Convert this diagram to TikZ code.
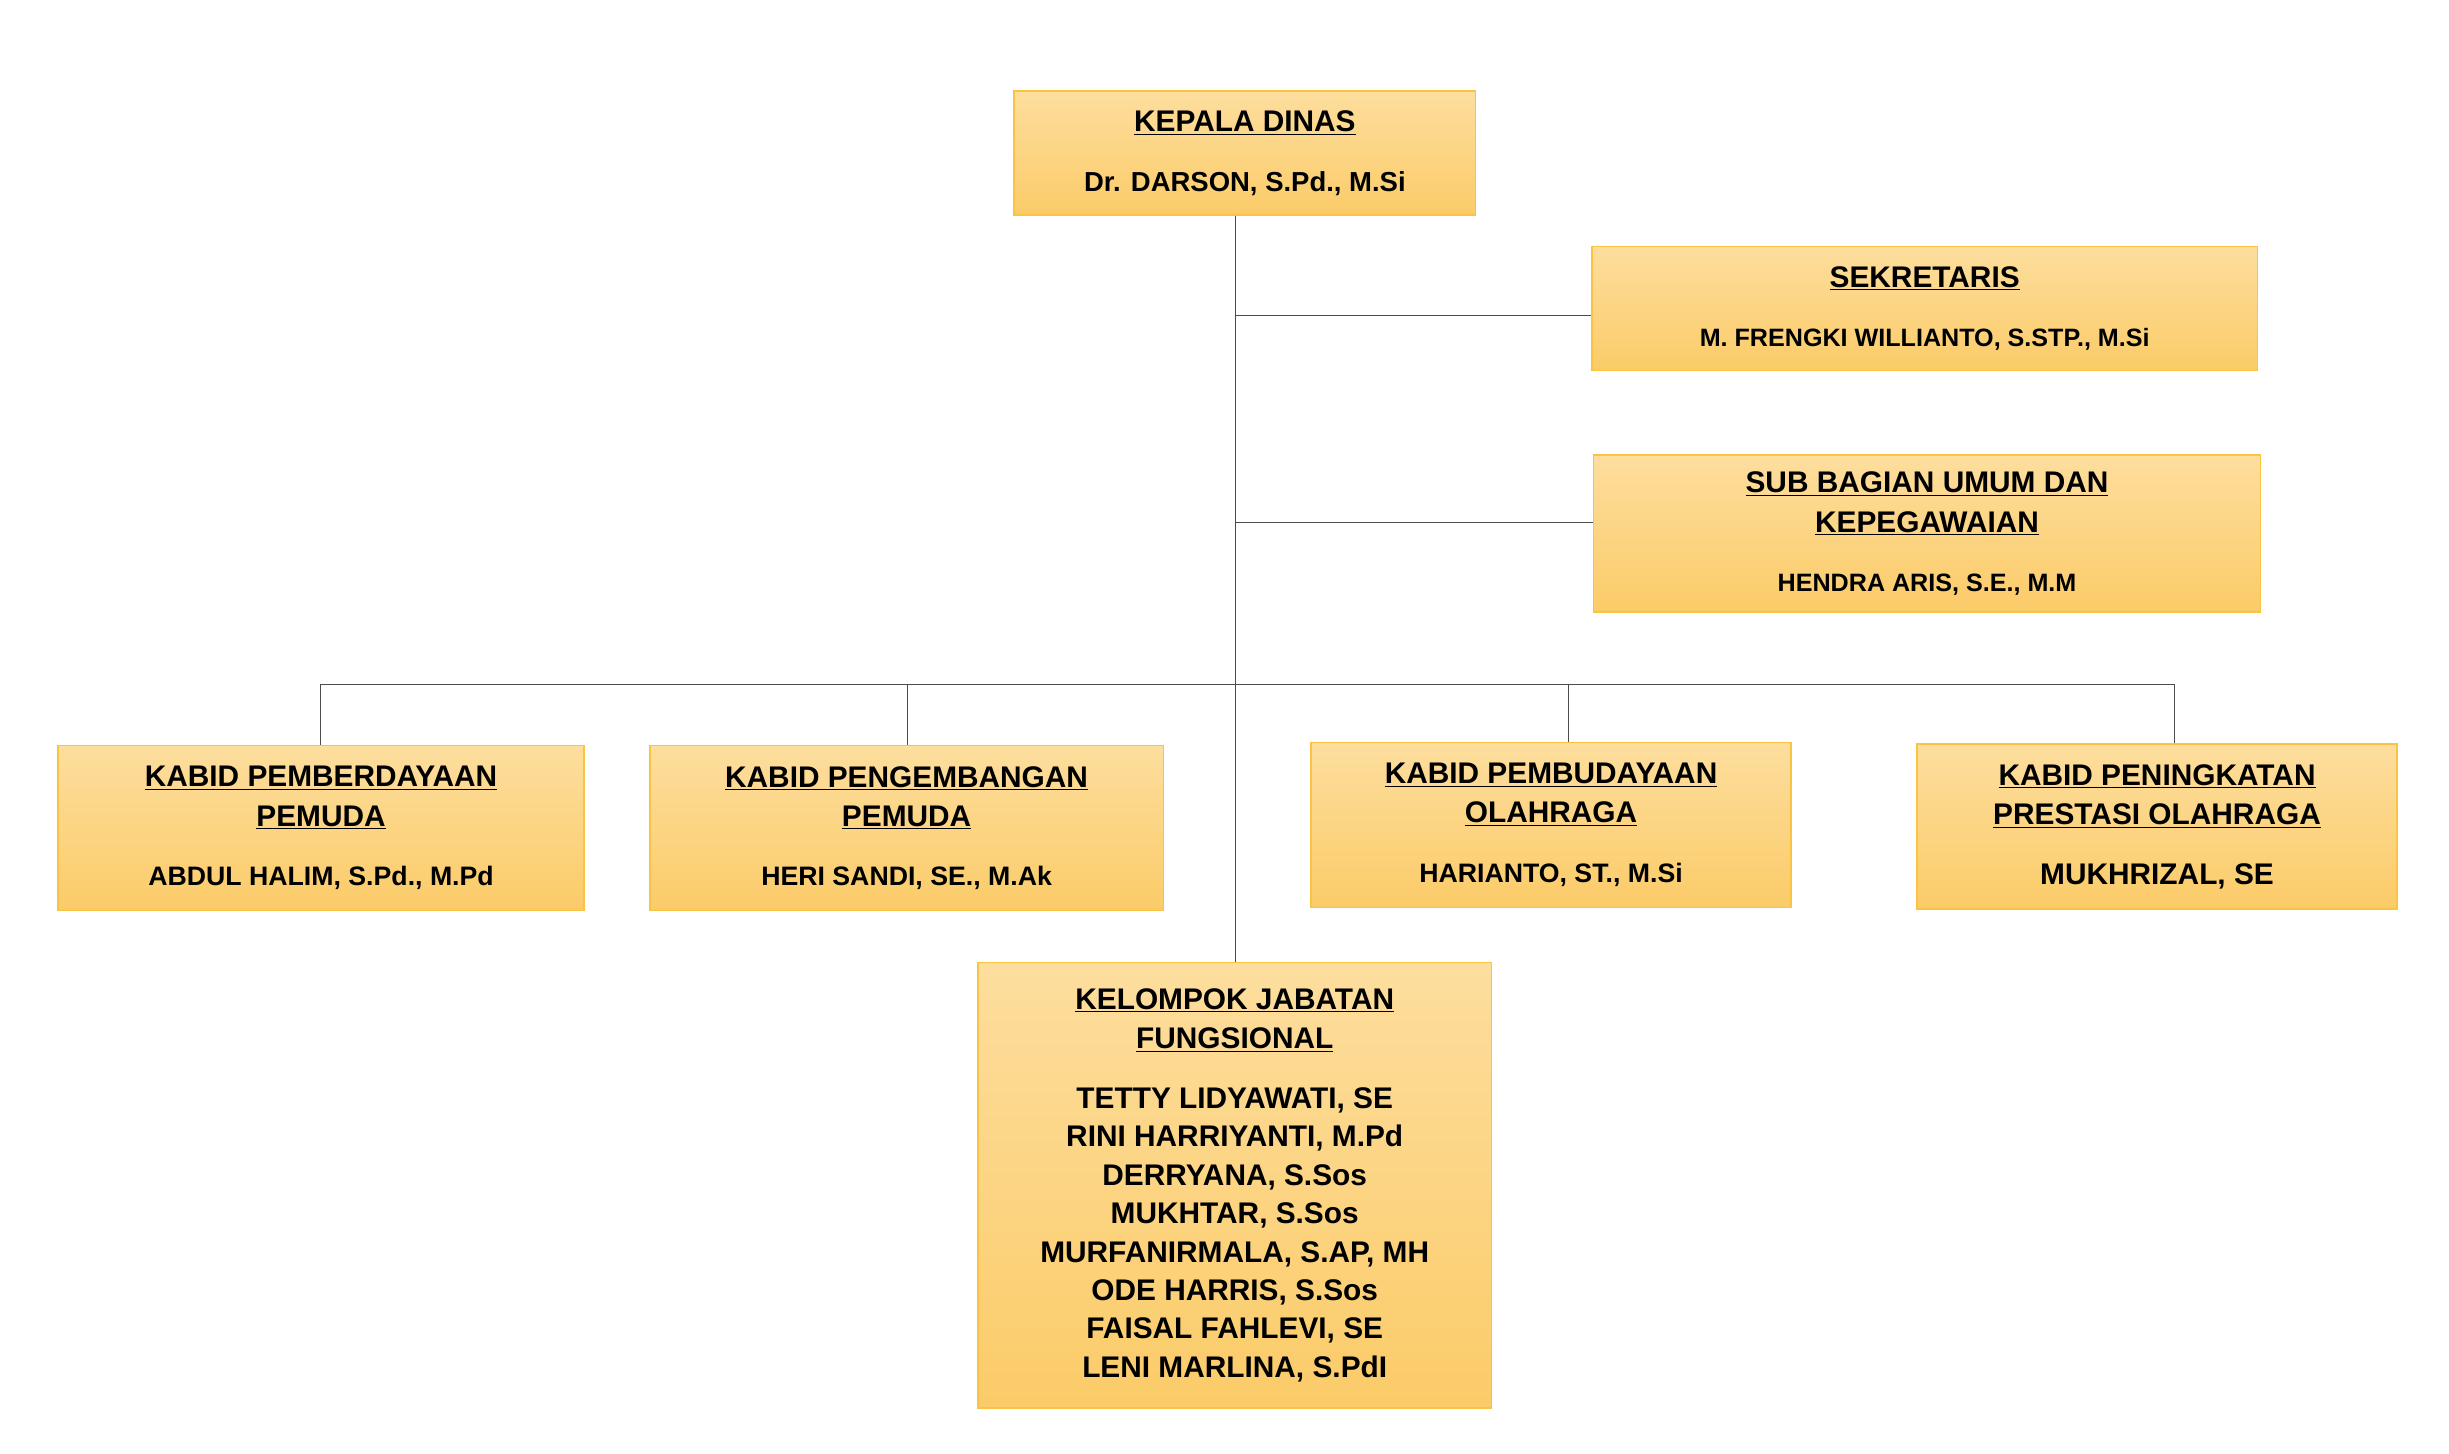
\documentclass[tikz,border=0pt]{standalone}
\usepackage{fontspec}
\setmainfont{Liberation Sans}
\begin{document}
\begin{tikzpicture}[x=1pt,y=-1pt,
 unit/.style={line width=1pt, shading angle=0, align=center, font=\bfseries\fontsize{19}{24}\selectfont, inner sep=2pt},
 ln/.style={draw=black!70, line width=0.8pt}]
\useasboundingbox (0,0) rectangle (1560,926);
\tikzset{unit/.append style={top color={rgb,255:red,253;green,222;blue,158}, bottom color={rgb,255:red,251;green,203;blue,104}, draw={rgb,255:red,250;green,196;blue,66}}}
\node[unit, minimum width=294, minimum height=79] (kd) at (793,97.5) {\underline{KEPALA DINAS}\\[14pt]{\fontsize{17.5}{20}\selectfont Dr. DARSON, S.Pd., M.Si}};
\node[unit, minimum width=424, minimum height=79] (sek) at (1226,196.5) {\underline{SEKRETARIS}\\[14pt]{\fontsize{16}{20}\selectfont M. FRENGKI WILLIANTO, S.STP., M.Si}};
\node[unit, minimum width=425, minimum height=100] (sub) at (1227.5,340) {\underline{SUB BAGIAN UMUM DAN}\\[1pt]\underline{KEPEGAWAIAN}\\[14pt]{\fontsize{16}{20}\selectfont HENDRA ARIS, S.E., M.M}};
\node[unit, minimum width=335, minimum height=105] (k1) at (204.5,527.5) {\underline{KABID PEMBERDAYAAN}\\[1pt]\underline{PEMUDA}\\[14pt]{\fontsize{17}{20}\selectfont ABDUL HALIM, S.Pd., M.Pd}};
\node[unit, minimum width=327, minimum height=105] (k2) at (577.5,527.5) {\underline{KABID PENGEMBANGAN}\\[1pt]\underline{PEMUDA}\\[14pt]{\fontsize{17}{20}\selectfont HERI SANDI, SE., M.Ak}};
\node[unit, minimum width=306, minimum height=105] (k3) at (988,525.5) {\underline{KABID PEMBUDAYAAN}\\[1pt]\underline{OLAHRAGA}\\[14pt]{\fontsize{17}{20}\selectfont HARIANTO, ST., M.Si}};
\node[unit, minimum width=306, minimum height=105] (k4) at (1374,526.5) {\underline{KABID PENINGKATAN}\\[1pt]\underline{PRESTASI OLAHRAGA}\\[14pt]{\fontsize{19}{20}\selectfont MUKHRIZAL, SE}};
\node[unit, minimum width=327, minimum height=284] (kj) at (786.5,755) {\underline{KELOMPOK JABATAN}\\[1pt]\underline{FUNGSIONAL}\\[14pt]TETTY LIDYAWATI, SE\\[0.5pt]RINI HARRIYANTI, M.Pd\\[0.5pt]DERRYANA, S.Sos\\[0.5pt]MUKHTAR, S.Sos\\[0.5pt]MURFANIRMALA, S.AP, MH\\[0.5pt]ODE HARRIS, S.Sos\\[0.5pt]FAISAL FAHLEVI, SE\\[0.5pt]LENI MARLINA, S.PdI};
\coordinate (s1) at (787,201);
\coordinate (s2) at (787,333);
\coordinate (b1) at (204,436);
\coordinate (b2) at (578,436);
\coordinate (b3) at (999,436);
\coordinate (b4) at (1385,436);
\draw[ln] (kd.south -| s1) -- (kj.north -| s1);
\draw[ln] (s1) -- (sek.west |- s1);
\draw[ln] (s2) -- (sub.west |- s2);
\draw[ln] (b1) -- (b4);
\draw[ln] (b1) -- (k1.north -| b1);
\draw[ln] (b2) -- (k2.north -| b2);
\draw[ln] (b3) -- (k3.north -| b3);
\draw[ln] (b4) -- (k4.north -| b4);
\end{tikzpicture}
\end{document}
